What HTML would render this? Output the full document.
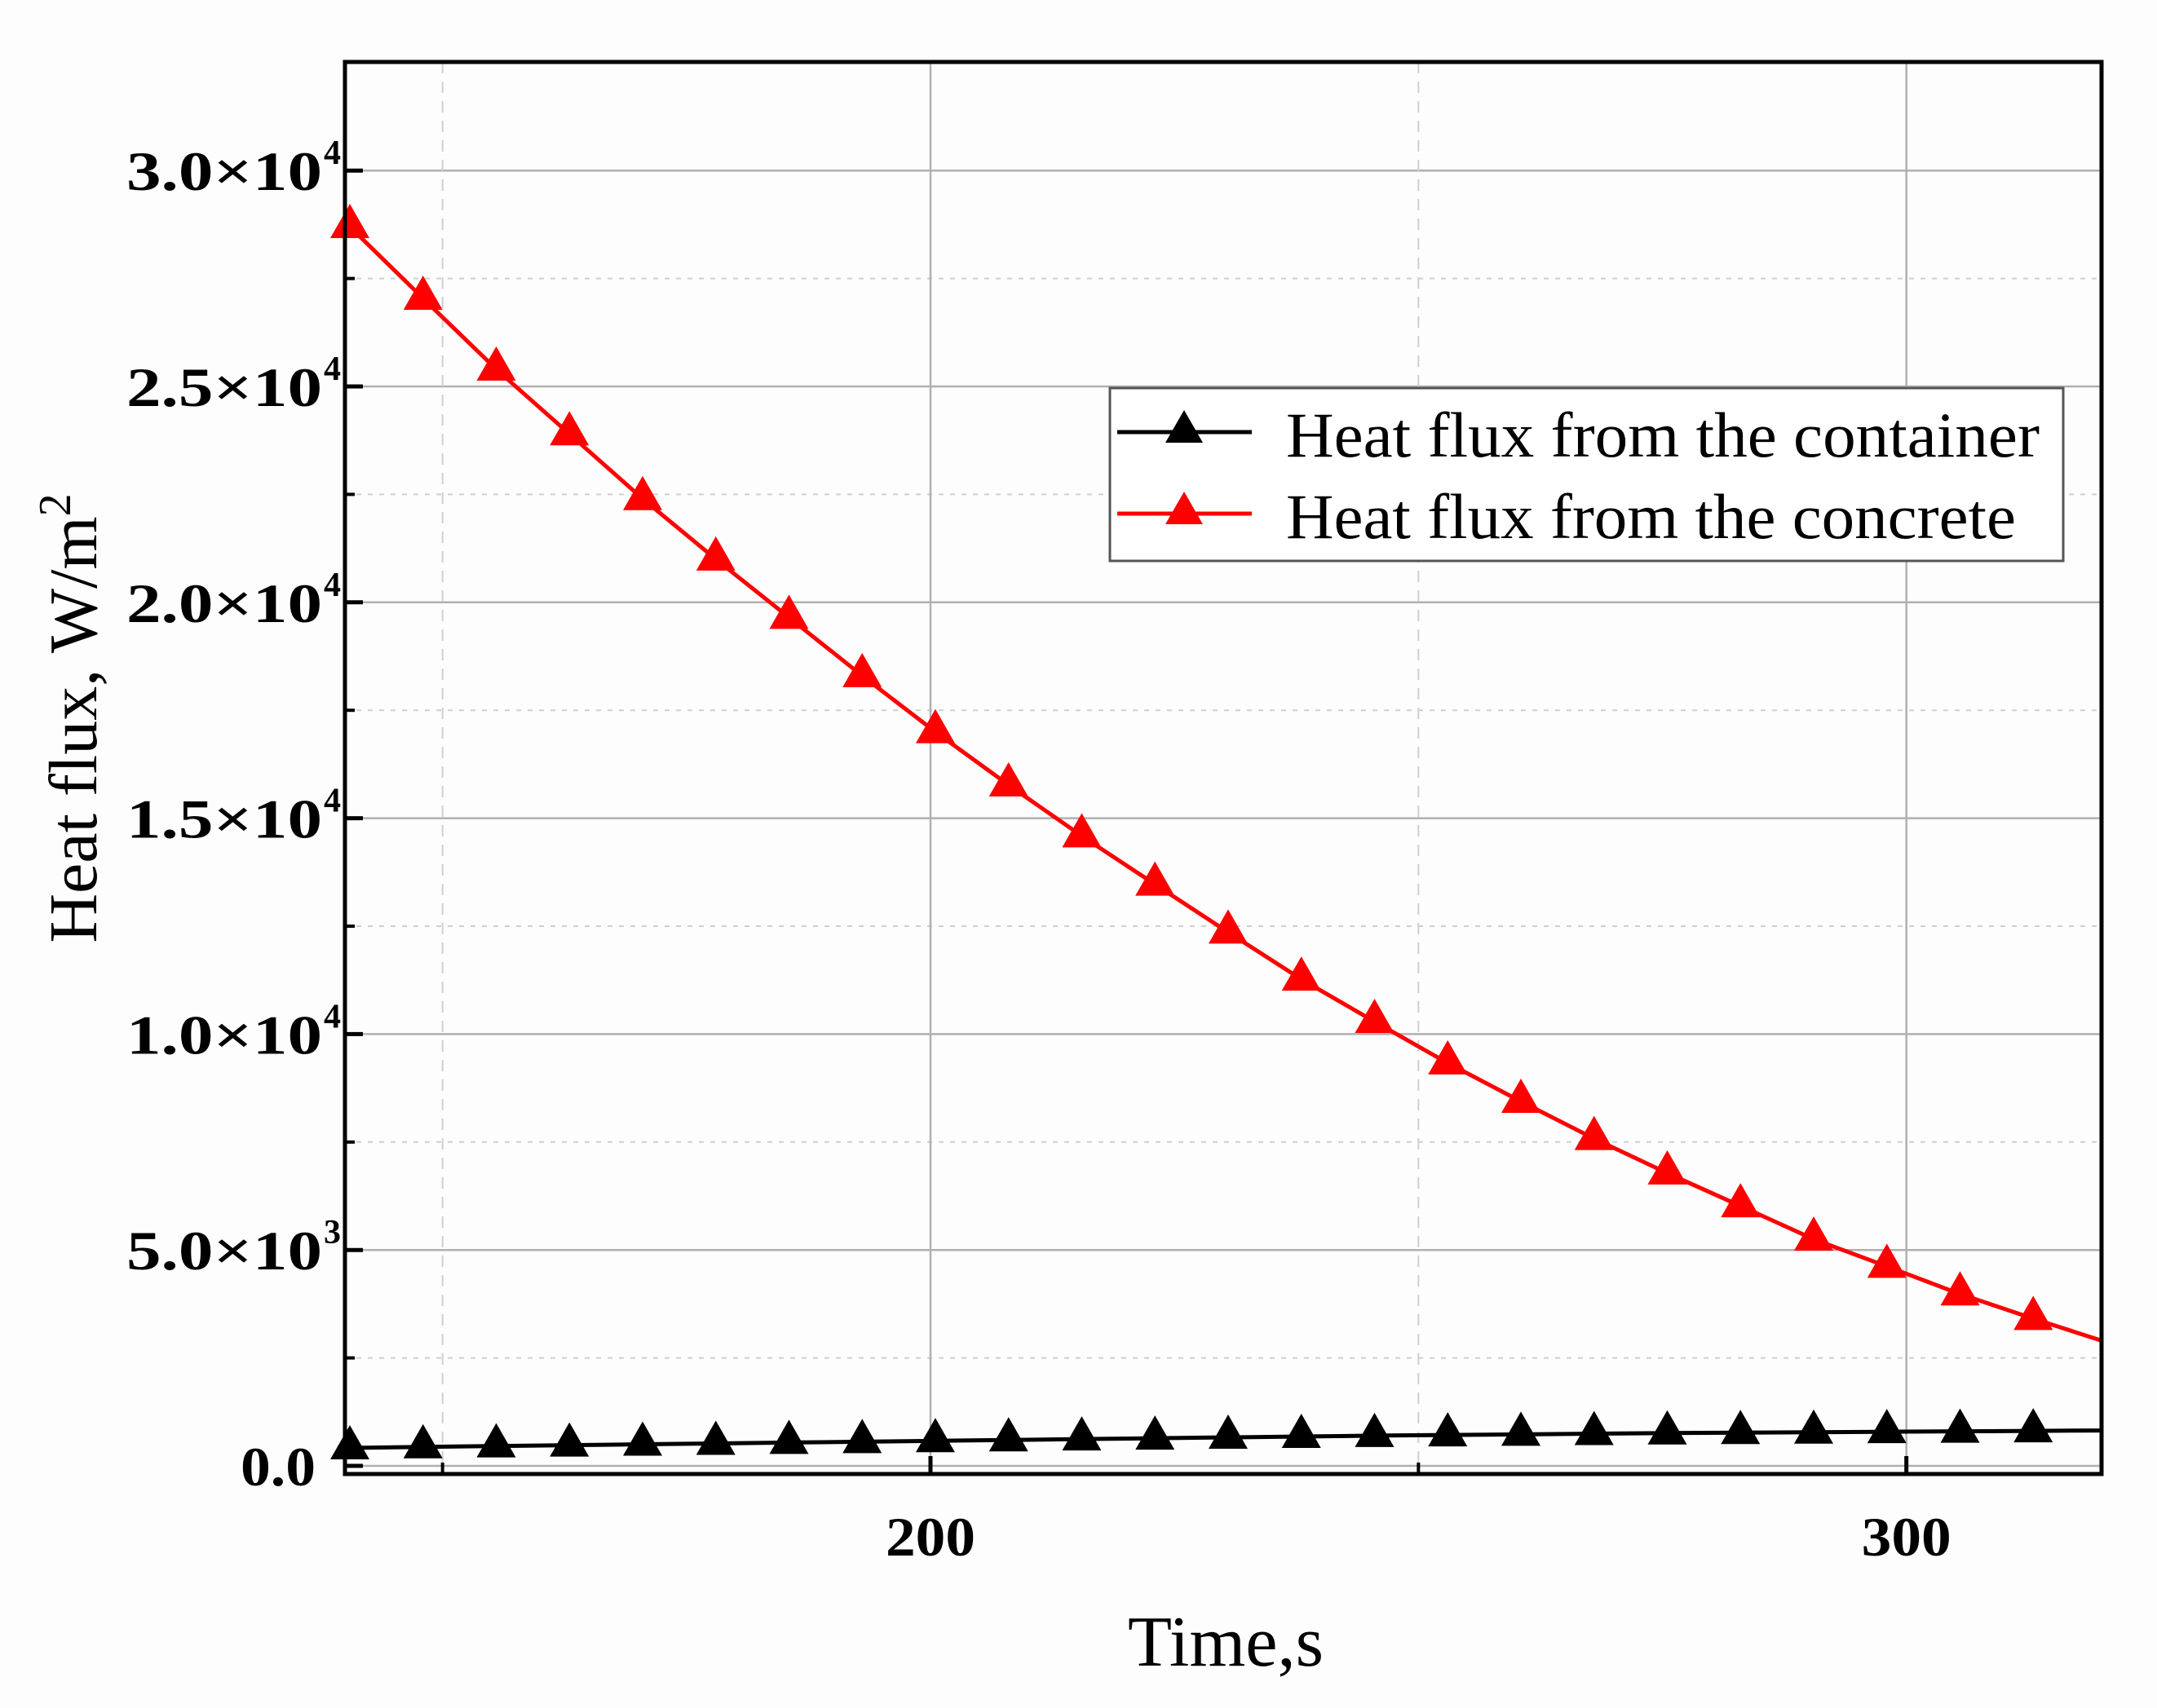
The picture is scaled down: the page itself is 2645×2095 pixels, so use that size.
<!DOCTYPE html>
<html><head><meta charset="utf-8"><style>
html,body{margin:0;padding:0;background:#fdfdfd;}
svg{display:block;font-family:"Liberation Serif",serif;}
</style></head><body>
<svg id="chart" width="2645" height="2095" viewBox="0 0 2645 2095" xmlns="http://www.w3.org/2000/svg">
<rect x="0" y="0" width="2645" height="2095" fill="#fdfdfd"/>
<g id="grid"></g>
<g id="series"></g>
<g id="axes"></g>
<text x="1503" y="2043" font-size="88" text-anchor="middle" textLength="240" lengthAdjust="spacingAndGlyphs">Time,s</text>
<text transform="translate(118,881) rotate(-90)" font-size="84" text-anchor="middle">Heat flux, W/m<tspan dy="-32" font-size="56">2</tspan></text>
<g>
<rect x="1361" y="476" width="1169" height="212" fill="#ffffff" stroke="#555" stroke-width="3"/>
<g>
<line x1="1370" y1="530" x2="1535" y2="530" stroke="#000" stroke-width="5"/>
<polygon points="1452,503 1429,543 1475,543" fill="#000"/>
<text x="1577" y="560" font-size="78" textLength="924" lengthAdjust="spacingAndGlyphs">Heat flux from the container</text>
</g>
<g>
<line x1="1370" y1="630" x2="1535" y2="630" stroke="#ff0000" stroke-width="5"/>
<polygon points="1452,603 1429,643 1475,643" fill="#ff0000"/>
<text x="1577" y="660" font-size="78" textLength="895" lengthAdjust="spacingAndGlyphs">Heat flux from the concrete</text>
</g>
</g>
<script>
const xMarkers = [140.5,148,155.5,163,170.5,178,185.5,193,200.5,208,215.5,223,230.5,238,245.5,253,260.5,268,275.5,283,290.5,298,305.5,313];
const concreteValues = [28700,27040,25400,23900,22400,21000,19650,18300,17000,15770,14590,13470,12360,11270,10290,9330,8440,7580,6780,6020,5250,4620,3980,3410];
const containerValues = [415,440,460,480,500,520,540,560,580,600,620,640,660,680,700,715,730,745,760,770,780,790,800,810];
const concreteEnd = 2900;
const containerEnd = 820;
const xMajorTicks = [200,300];
const xMinorTicks = [150,250];
const yMajorTicks = [0,5000,10000,15000,20000,25000,30000];
const yMajorLabels = [["0.0",""],["5.0×10","3"],["1.0×10","4"],["1.5×10","4"],["2.0×10","4"],["2.5×10","4"],["3.0×10","4"]];
const yMinorTicks = [2500,7500,12500,17500,22500,27500];

const L=423,R=2577,T=76,B=1808;
const xMin=140,xMax=320;
const X=v=>L+(v-xMin)/(xMax-xMin)*(R-L);
const Y=v=>1798-v/5000*264.8;
const NS="http://www.w3.org/2000/svg";
function mk(tag,attrs,parent){const e=document.createElementNS(NS,tag);for(const k in attrs)e.setAttribute(k,attrs[k]);parent.appendChild(e);return e;}
const grid=document.getElementById('grid'),series=document.getElementById('series'),axes=document.getElementById('axes');

yMajorTicks.forEach(v=>{const e=mk('line',{x1:L,x2:R,y1:Y(v),y2:Y(v),stroke:'#b0b0b0','stroke-width':2.5},grid);

});
yMinorTicks.forEach(v=>{const e=mk('line',{x1:L,x2:R,y1:Y(v),y2:Y(v),stroke:'#cfcfcf','stroke-width':2,'stroke-dasharray':'6,8'},grid);

});
xMajorTicks.forEach(v=>{const e=mk('line',{x1:X(v),x2:X(v),y1:T,y2:B,stroke:'#b0b0b0','stroke-width':2.5},grid);

});
xMinorTicks.forEach(v=>{const e=mk('line',{x1:X(v),x2:X(v),y1:T,y2:B,stroke:'#cfcfcf','stroke-width':2,'stroke-dasharray':'14,10'},grid);

});

function drawSeries(xs,vals,endVal,color,name){
  let pts=xs.map((x,i)=>X(x)+','+Y(vals[i]));
  pts.unshift(X(xMin)+','+Y(vals[0]));
  pts.push(X(xMax)+','+Y(endVal));
  const pl=mk('polyline',{points:pts.join(' '),fill:'none',stroke:color,'stroke-width':5},series);
  
  
  xs.forEach((x,i)=>{const cx=X(x),cy=Y(vals[i]);
    const p=mk('polygon',{points:`${cx},${cy-28} ${cx-24},${cy+14} ${cx+24},${cy+14}`,fill:color},series);
    
    });
}
drawSeries(xMarkers,containerValues,containerEnd,'#000000','container');
drawSeries(xMarkers,concreteValues,concreteEnd,'#ff0000','concrete');

const frame=mk('rect',{x:L,y:T,width:R-L,height:B-T,fill:'none',stroke:'#000','stroke-width':5},axes);


yMajorTicks.forEach((v,i)=>{
  const t=mk('line',{x1:L,x2:L+22,y1:Y(v),y2:Y(v),stroke:'#000','stroke-width':5},axes);
  
  
  const lab=yMajorLabels[i];
  const tx=mk('text',{x:lab[1]?155:295,y:Y(v)+24,'font-size':68,'font-weight':'bold','textLength':lab[1]?240:92,'lengthAdjust':'spacingAndGlyphs'},axes);
  tx.textContent=lab[0];
  
  
  if(lab[1]){const s=mk('text',{x:397,y:Y(v)-8,'font-size':42,'font-weight':'bold'},axes);
    s.textContent=lab[1];
    
    }
});
yMinorTicks.forEach(v=>{const t=mk('line',{x1:L,x2:L+12,y1:Y(v),y2:Y(v),stroke:'#000','stroke-width':4},axes);
  
  });
xMajorTicks.forEach(v=>{
  const t=mk('line',{x1:X(v),x2:X(v),y1:B,y2:B-22,stroke:'#000','stroke-width':5},axes);
  
  
  const tx=mk('text',{x:X(v),y:1908,'font-size':68,'font-weight':'bold','text-anchor':'middle','textLength':110,'lengthAdjust':'spacingAndGlyphs'},axes);
  tx.textContent=String(v);
  
  
});
xMinorTicks.forEach(v=>{const t=mk('line',{x1:X(v),x2:X(v),y1:B,y2:B-14,stroke:'#000','stroke-width':4},axes);
  
  });
</script>
</svg>
</body></html>
